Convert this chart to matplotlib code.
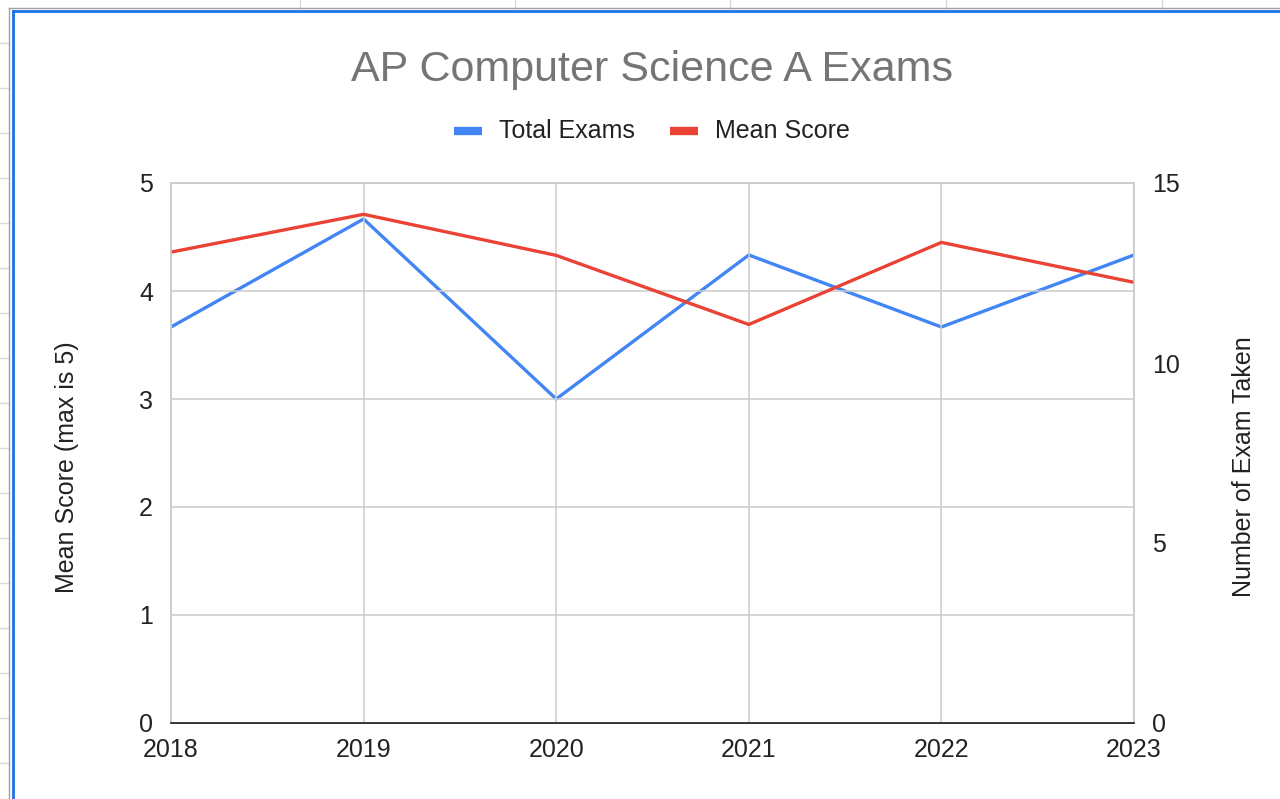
import matplotlib
matplotlib.use("Agg")
import matplotlib.pyplot as plt
from matplotlib.lines import Line2D

years = [2018, 2019, 2020, 2021, 2022, 2023]
mean_score = [4.36, 4.71, 4.33, 3.69, 4.45, 4.08]
total_exams = [11, 14, 9, 13, 11, 13]

plt.rcParams['font.family'] = ['Liberation Sans', 'DejaVu Sans']

W, H = 1280, 799
fig = plt.figure(figsize=(W / 100, H / 100), dpi=100, facecolor='white')


def px(x, y):
    return x / W, 1 - y / H


# spreadsheet cell marks around the chart object
for y in range(43, 770, 45):
    (x0, y0), (x1, _) = px(0, y), px(9, y)
    fig.add_artist(Line2D([x0, x1], [y0, y0], color='#d9d9d9', lw=1))
for x in [300, 515, 730, 946, 1162]:
    (x0, y0), (_, y1) = px(x, 0), px(x, 8)
    fig.add_artist(Line2D([x0, x0], [y0, y1], color='#d9d9d9', lw=1))
# selection border
fig.add_artist(Line2D([px(9, 0)[0]] * 2, [px(0, 8)[1], 0], color='#a0a0a0', lw=1))
fig.add_artist(Line2D([px(9, 0)[0], 1], [px(0, 8)[1]] * 2, color='#a0a0a0', lw=1))
fig.add_artist(Line2D([px(12.5, 0)[0]] * 2, [px(0, 11)[1], 0], color='#1a73e8', lw=2))
fig.add_artist(Line2D([px(12.5, 0)[0], 1], [px(0, 11)[1]] * 2, color='#1a73e8', lw=2))

left, right, top, bottom = 171, 1134, 183, 723
ax = fig.add_axes([left / W, 1 - bottom / H, (right - left) / W, (bottom - top) / H])
ax2 = ax.twinx()

l1, = ax2.plot(years, total_exams, color='#4285f4', lw=2.4, label='Total Exams')
l2, = ax.plot(years, mean_score, color='#ea4335', lw=2.4, label='Mean Score')
ax.set_zorder(ax2.get_zorder() + 1)
ax.patch.set_visible(False)

ax.set_xlim(2018, 2023)
ax.set_ylim(0, 5)
ax2.set_ylim(0, 15)
ax.set_xticks(years)
ax.set_yticks(range(0, 6))
ax2.set_yticks([0, 5, 10, 15])

ax.grid(True, color='#cccccc', lw=1.1)
ax.set_axisbelow(True)
for a in (ax, ax2):
    for s in ('left', 'right', 'top'):
        a.spines[s].set_color('#cccccc')
        a.spines[s].set_linewidth(1.1)
    a.spines['bottom'].set_color('#333333')
    a.spines['bottom'].set_linewidth(1.3)
    a.tick_params(length=0, labelsize=18, colors='#222222')
ax.tick_params(axis='y', pad=13)
ax.tick_params(axis='x', pad=11)
ax2.tick_params(axis='y', pad=13)

ax.set_ylabel('Mean Score (max is 5)', fontsize=18, color='#222222')
ax2.set_ylabel('Number of Exam Taken', fontsize=18, color='#222222')
ax.yaxis.set_label_coords((79 - left) / (right - left), (bottom - 467) / (bottom - top))
ax2.yaxis.set_label_coords((1232 - left) / (right - left), (bottom - 467) / (bottom - top))

fig.text(652 / W, 1 - 70 / H, 'AP Computer Science A Exams', ha='center', va='center',
         fontsize=31, color='#757575')

fig.legend(handles=[l1, l2], loc='center', bbox_to_anchor=(652 / W, 1 - 131 / H),
           ncol=2, frameon=False, fontsize=18, handlelength=1.1, handleheight=0.3,
           handletextpad=0.7, columnspacing=1.4, labelcolor='#222222')
for h in fig.legends[0].legend_handles:
    h.set_linewidth(6)
    h.set_solid_capstyle('butt')

fig.savefig('out.png', dpi=100, facecolor='white')
